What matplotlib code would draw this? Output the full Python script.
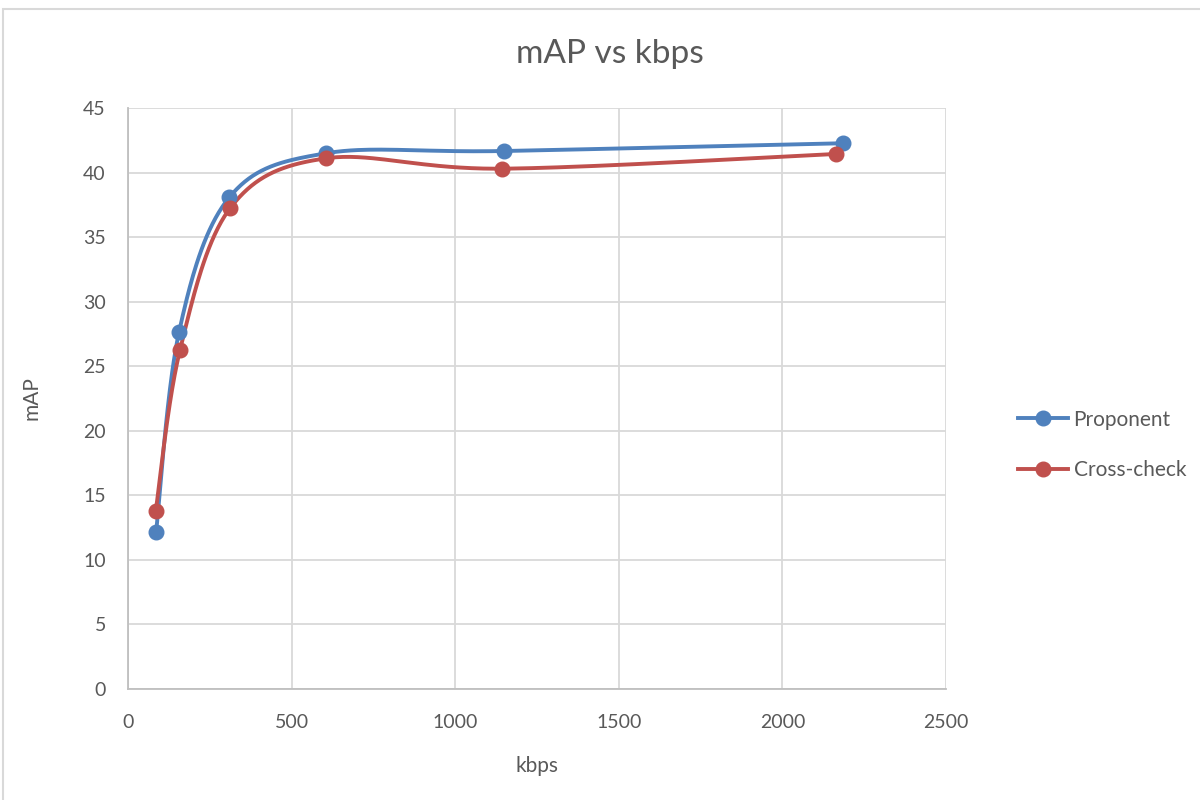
import numpy as np
import matplotlib.pyplot as plt
from matplotlib.patches import Rectangle

plt.rcParams['font.family'] = ['Lato', 'DejaVu Sans']

# data
kbps_prop = [85.6, 155.9, 309.6, 604.2, 1150, 2184]
map_prop = [12.14, 27.65, 38.08, 41.49, 41.67, 42.27]
kbps_cross = [84.7, 158.9, 311.7, 604.2, 1144, 2165]
map_cross = [13.81, 26.26, 37.23, 41.1, 40.30, 41.44]

BLUE = '#4F81BD'
RED = '#C0504D'
GREY = '#595959'


def smooth(xs, ys, n=40):
    # Excel-like smoothed line: cubic Bezier through points (Catmull-Rom style)
    p = np.column_stack([xs, ys]).astype(float)
    p = np.vstack([p[0], p, p[-1]])
    t = np.linspace(0, 1, n)[:, None]
    out = []
    for i in range(1, len(p) - 2):
        p0, p3 = p[i], p[i + 1]
        p1 = p0 + (p[i + 1] - p[i - 1]) / 6
        p2 = p3 - (p[i + 2] - p[i]) / 6
        seg = ((1 - t) ** 3) * p0 + 3 * ((1 - t) ** 2) * t * p1 + 3 * (1 - t) * t ** 2 * p2 + t ** 3 * p3
        out.append(seg)
    c = np.vstack(out)
    return c[:, 0], c[:, 1]


fig = plt.figure(figsize=(12, 8), dpi=100)
ax = fig.add_axes([0.1067, 0.13875, 0.6816, 0.72625])

# chart border
fig.patches.append(Rectangle((3 / 1200, -0.01), 1.1, 1 - 9 / 800 + 0.01, transform=fig.transFigure,
                             fill=False, edgecolor='#D9D9D9', lw=1.5))

for xs, ys, col, lab in [(kbps_prop, map_prop, BLUE, 'Proponent'),
                         (kbps_cross, map_cross, RED, 'Cross-check')]:
    sx, sy = smooth(xs, ys)
    ax.plot(sx, sy, color=col, lw=2.8, solid_capstyle='round', zorder=3)
    ax.plot(xs, ys, 'o', color=col, ms=10.5, zorder=4)
    ax.plot([], [], '-o', color=col, lw=2.8, ms=10.5, label=lab)

ax.set_xlim(0, 2500)
ax.set_ylim(0, 45)
ax.set_xticks(range(0, 2501, 500))
ax.set_yticks(range(0, 46, 5))
ax.grid(True, color='#D9D9D9', lw=1.3)
ax.set_axisbelow(True)
for s in ['top', 'right']:
    ax.spines[s].set_visible(False)
for s in ['left', 'bottom']:
    ax.spines[s].set_color('#BFBFBF')
    ax.spines[s].set_linewidth(1.3)
ax.tick_params(length=0, labelsize=14, colors=GREY)
ax.tick_params(axis='x', pad=18)
ax.tick_params(axis='y', pad=16)

fig.text(0.508, 0.932, 'mAP vs kbps', fontsize=24, color=GREY, ha='center', va='center')
ax.set_xlabel('kbps', fontsize=15, color=GREY, labelpad=18)
ax.set_ylabel('mAP', fontsize=15, color=GREY, labelpad=30)

leg = fig.legend(loc='center left', bbox_to_anchor=(0.833, 0.444), frameon=False,
                 fontsize=15, handlelength=2.4, labelspacing=1.45, handletextpad=0.25)
for t in leg.get_texts():
    t.set_color(GREY)

fig.savefig('out.png', dpi=100)
